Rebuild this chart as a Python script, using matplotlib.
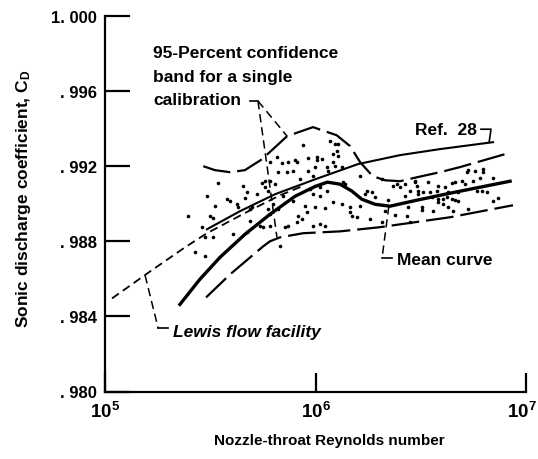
import matplotlib
matplotlib.use('Agg')
import matplotlib.pyplot as plt
import matplotlib.transforms as mtransforms
import numpy as np

plt.rcParams['font.family'] = ['Liberation Sans', 'DejaVu Sans']
plt.rcParams['font.weight'] = 'bold'
plt.rcParams['mathtext.fontset'] = 'custom'
plt.rcParams['mathtext.rm'] = 'Liberation Sans:bold'
plt.rcParams['mathtext.it'] = 'Liberation Sans:italic:bold'
plt.rcParams['mathtext.bf'] = 'Liberation Sans:bold'
plt.rcParams['lines.scale_dashes'] = False

# curves (Reynolds number, discharge coefficient)
ref28_re = [3.05e5, 4.37e5, 6.43e5, 1.0e6, 1.59e6, 2.52e6, 3.90e6, 6.97e6]
ref28_cd = [0.98864, 0.98960, 0.99051, 0.99131, 0.99211, 0.99259, 0.99291, 0.99328]

lewis_re = [1.08e5, 1.64e5, 2.40e5, 3.05e5, 4.89e5, 6.78e5, 8.91e5]
lewis_cd = [0.98496, 0.98640, 0.98768, 0.98843, 0.98965, 0.99045, 0.99099]

mean_re = [2.27e5, 2.82e5, 3.52e5, 4.62e5, 6.08e5, 8.0e5, 1.0e6, 1.14e6, 1.31e6,
           1.49e6, 1.66e6, 1.92e6, 2.26e6, 3.03e6, 4.35e6, 6.04e6, 8.4e6]
mean_cd = [0.98464, 0.98597, 0.98715, 0.98837, 0.98944, 0.99040, 0.99093, 0.99115, 0.99104,
           0.99067, 0.99024, 0.98997, 0.98987, 0.99019, 0.99056, 0.99088, 0.99120]

upper_re = [2.93e5, 3.33e5, 3.93e5, 4.62e5, 5.57e5, 7.33e5, 9.73e5, 1.26e6, 1.46e6,
            1.63e6, 1.87e6, 2.14e6, 2.52e6, 3.03e6, 3.90e6, 4.85e6, 7.94e6]
upper_cd = [0.99200, 0.99179, 0.99168, 0.99179, 0.99237, 0.99360, 0.99408, 0.99365, 0.99307,
            0.99221, 0.99147, 0.99125, 0.99120, 0.99141, 0.99168, 0.99195, 0.99264]

lower_re = [3.02e5, 3.93e5, 5.64e5, 6.08e5, 6.78e5, 8.73e5, 1.31e6, 2.02e6, 4.35e6, 8.67e6]
lower_cd = [0.98501, 0.98624, 0.98773, 0.98800, 0.98821, 0.98843, 0.98853, 0.98875, 0.98928, 0.98992]

# calibration points (log10 Re, Cd)
dot_logre = [5.784, 5.841, 5.869, 5.903, 5.822, 5.865, 5.893, 5.537, 5.656, 5.746,
             5.760, 5.784, 5.808, 5.760, 5.774, 5.675, 5.485, 5.580, 5.594, 5.665,
             5.722, 5.846, 5.893, 5.523, 5.627, 5.632, 5.689, 5.698, 5.774, 5.798,
             5.822, 5.394, 5.499, 5.513, 5.689, 5.784, 5.917, 5.912, 5.461, 5.736,
             5.751, 5.784, 5.608, 5.855, 5.869, 5.475, 5.513, 5.675, 5.428, 5.475,
             5.831, 5.941, 6.069, 6.093, 6.107, 6.102, 5.964, 6.007, 6.007, 6.031,
             6.083, 6.107, 6.083, 6.093, 6.055, 6.059, 5.998, 5.964, 5.988, 5.926,
             6.126, 6.211, 6.316, 6.368, 6.402, 6.387, 6.425, 6.473, 6.482, 6.449,
             6.487, 5.974, 6.021, 5.988, 6.055, 6.131, 6.140, 6.245, 6.235, 6.268,
             6.283, 6.345, 6.425, 6.021, 6.083, 6.126, 5.950, 5.998, 6.045, 6.164,
             6.164, 6.173, 6.197, 5.960, 5.936, 5.988, 6.021, 6.045, 6.330, 6.316,
             6.378, 6.440, 6.435, 6.259, 6.211, 6.449, 6.720, 6.725, 6.758, 6.796,
             6.796, 6.473, 6.535, 6.582, 6.615, 6.649, 6.663, 6.696, 6.710, 6.748,
             6.782, 6.843, 6.487, 6.511, 6.544, 6.577, 6.630, 6.677, 6.767, 6.791,
             6.815, 6.554, 6.582, 6.606, 6.625, 6.649, 6.663, 6.677, 6.582, 6.606,
             6.506, 6.506, 6.558, 6.630, 6.653, 6.725, 6.843, 6.867, 5.817, 5.912]
dot_cd = [0.99221, 0.99216, 0.99221, 0.99232, 0.99168, 0.99168, 0.99173, 0.99109, 0.99093, 0.99109,
          0.99120, 0.99120, 0.99104, 0.99088, 0.99067, 0.99061, 0.99040, 0.99024, 0.99013, 0.99029,
          0.99051, 0.99040, 0.99013, 0.98987, 0.98997, 0.98981, 0.98971, 0.98981, 0.98971, 0.98997,
          0.98971, 0.98933, 0.98933, 0.98923, 0.98907, 0.98944, 0.98933, 0.98901, 0.98875, 0.98880,
          0.98875, 0.98880, 0.98837, 0.98875, 0.98880, 0.98821, 0.98821, 0.98848, 0.98741, 0.98720,
          0.98773, 0.99312, 0.99333, 0.99317, 0.99317, 0.99280, 0.99243, 0.99248, 0.99232, 0.99237,
          0.99264, 0.99253, 0.99221, 0.99200, 0.99195, 0.99173, 0.99195, 0.99173, 0.99147, 0.99131,
          0.99195, 0.99147, 0.99131, 0.99093, 0.99088, 0.99104, 0.99104, 0.99120, 0.99093, 0.99067,
          0.99051, 0.99077, 0.99088, 0.99051, 0.99067, 0.99115, 0.99104, 0.99067, 0.99051, 0.99061,
          0.99035, 0.99019, 0.99040, 0.99040, 0.99008, 0.98997, 0.98987, 0.98981, 0.98976, 0.98981,
          0.98955, 0.98933, 0.98928, 0.98955, 0.98917, 0.98880, 0.98891, 0.98880, 0.98960, 0.98901,
          0.98939, 0.98981, 0.98933, 0.98917, 0.98987, 0.98901, 0.99168, 0.99179, 0.99173, 0.99168,
          0.99184, 0.99115, 0.99115, 0.99093, 0.99088, 0.99109, 0.99115, 0.99120, 0.99104, 0.99120,
          0.99136, 0.99136, 0.99067, 0.99061, 0.99061, 0.99067, 0.99061, 0.99061, 0.99067, 0.99067,
          0.99061, 0.99035, 0.99024, 0.99024, 0.99035, 0.99024, 0.99019, 0.99013, 0.99008, 0.98997,
          0.98981, 0.98965, 0.98960, 0.98981, 0.98960, 0.98971, 0.99013, 0.99029, 0.99248, 0.99221]

yticks = [0.980, 0.984, 0.988, 0.992, 0.996, 1.000]
ytick_labels = ['. 980', '. 984', '. 988', '. 992', '. 996', '1. 000']
xticks = [1e5, 1e6, 1e7]
xtick_labels = ['$10^5$', '$10^6$', '$10^7$']

fig = plt.figure(figsize=(5.38, 4.6), dpi=100)
ax = fig.add_axes([105/538, 1-392.5/460, 421/538, 375.5/460])
ax.set_xscale('log')
ax.set_xlim(1e5, 1e7)
ax.set_ylim(0.980, 1.000)

k = 'black'
ax.plot(ref28_re, ref28_cd, '-', color=k, lw=1.5)
ax.plot(mean_re, mean_cd, '-', color=k, lw=2.4)
ax.plot(lewis_re, lewis_cd, color=k, lw=1.3, dashes=(6, 3.5))
ax.plot(upper_re, upper_cd, color=k, lw=1.6, dashes=(20, 5))
ax.plot(lower_re, lower_cd, color=k, lw=1.6, dashes=(20, 5))
ax.plot(10 ** np.array(dot_logre), dot_cd, 'o', color=k, ms=2.6, mew=0)

# annotations
fs = 12.5
for txt, yb in [('95-Percent confidence', 0.99781), ('band for a single', 0.99656),
                ('calibration', 0.99531)]:
    ax.text(1.69e5, yb, txt, fontsize=fs, ha='left', va='baseline')
ax.plot([4.89e5, 5.33e5], [0.99547, 0.99547], color=k, lw=1.2)
ax.plot([5.33e5, 7.33e5], [0.99547, 0.99360], color=k, lw=1.1, dashes=(6, 3.5))
ax.plot([5.33e5, 6.56e5], [0.99547, 0.98821], color=k, lw=1.1, dashes=(6, 3.5))

ax.text(5.85e6, 0.99371, 'Ref.  28', fontsize=fs, ha='right', va='baseline')
ax.plot([6.11e6, 6.82e6, 6.68e6], [0.99397, 0.99397, 0.99328], color=k, lw=1.2)

ax.text(2.44e6, 0.98677, 'Mean curve', fontsize=fs, ha='left', va='baseline')
ax.plot([2.23e6, 2.07e6], [0.98987, 0.98709], color=k, lw=1.1, dashes=(6, 3.5))
ax.plot([2.07e6, 2.31e6], [0.98709, 0.98709], color=k, lw=1.2)

ax.text(2.10e5, 0.98295, 'Lewis flow facility', fontsize=fs, ha='left', va='baseline', style='italic')
ax.plot([1.55e5, 1.79e5], [0.98619, 0.98336], color=k, lw=1.1, dashes=(6, 3.5))
ax.plot([1.79e5, 1.99e5], [0.98336, 0.98336], color=k, lw=1.2)

ax.spines['top'].set_visible(False)
ax.spines['right'].set_visible(False)
ax.spines['left'].set_linewidth(1.6)
ax.spines['bottom'].set_linewidth(1.6)
ax.set_yticks(yticks)
ax.set_yticklabels(ytick_labels, fontsize=12)
ax.set_xticks(xticks)
ax.set_xticklabels(xtick_labels, fontsize=13.5)
ax.minorticks_off()
ax.tick_params(axis='y', direction='in', length=18, width=1.6, pad=6)
ax.tick_params(axis='x', direction='in', length=14, width=1.6, pad=7)
last = ax.get_xticklabels()[-1]
last.set_transform(last.get_transform() + mtransforms.ScaledTranslation(-4/100, 0, fig.dpi_scale_trans))

fig.text(24/538, 1-199/460, 'Sonic discharge coefficient, $\\mathregular{C_D}$', rotation=90,
         fontsize=12.5, ha='center', va='center')
fig.text(329/538, 1-445/460, 'Nozzle-throat Reynolds number', fontsize=11, ha='center', va='baseline')

fig.savefig('out.png', dpi=100)
